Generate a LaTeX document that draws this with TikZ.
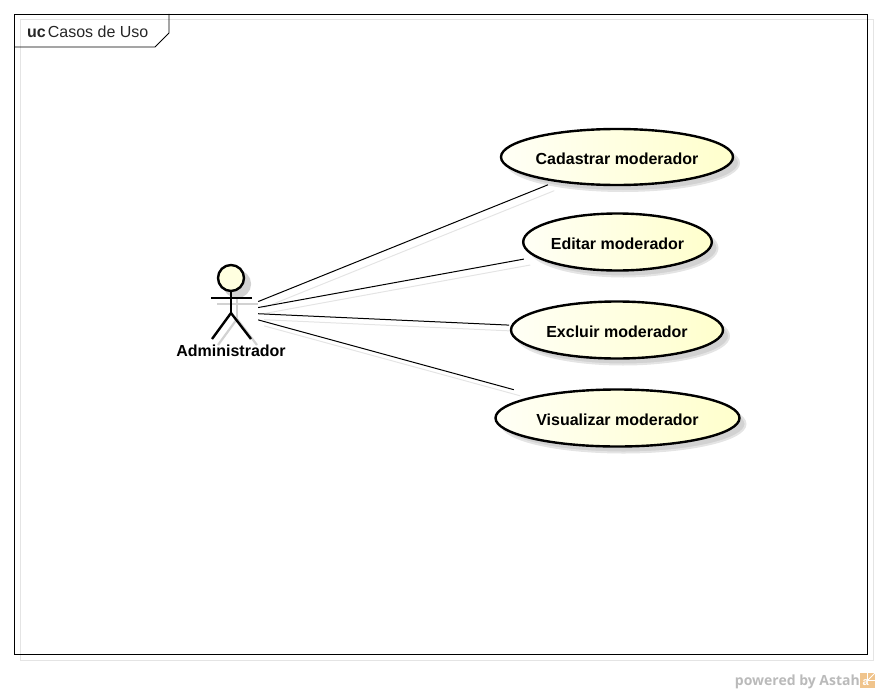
\documentclass[tikz,border=0pt]{standalone}
\usepackage{fontspec}
\setmainfont{Liberation Sans}
\newfontfamily\powerfont{Open Sans}
\usetikzlibrary{shapes.geometric}
\definecolor{ucfill}{HTML}{FFFFCC}
\definecolor{ucpale}{HTML}{FFFFF6}
\definecolor{ucshadow}{HTML}{D2D2D2}
\definecolor{shadowline}{HTML}{E4E4E4}
\definecolor{logofill}{HTML}{F0C48C}
\newcommand{\uclabel}[1]{\raisebox{-7pt}[0pt][0pt]{#1}}
\tikzset{
  usecase/.style={ellipse,draw,line width=2.4pt,inner sep=0pt,left color=ucpale,right color=ucfill,
    font=\fontsize{16}{18}\selectfont\bfseries},
  usecaseshadow/.style={ellipse,draw=ucshadow!60,line width=2pt,fill=ucshadow,inner sep=0pt},
  assoc/.style={line width=1pt},
  assocshadow/.style={line width=1pt,draw=shadowline},
  anchorbox/.style={rectangle,minimum width=54pt,minimum height=90pt,inner sep=0pt}
}
\begin{document}
\begin{tikzpicture}[x=1pt,y=-1pt]
      \useasboundingbox (0,0) rectangle (880,693);
      % frame
      \draw[shadowline,line width=1pt] (20,20) rectangle (873,660);
      \draw[line width=.85pt] (14,14) rectangle (867,654);
      \draw[line width=.85pt] (14,47) -- (155,47) -- (169,33) -- (169,14);
      \node[anchor=base west,inner sep=0pt,font=\fontsize{16}{18}\selectfont,text=black!85] (title) at (27,37.5) {\textbf{uc}\kern2pt Casos de Uso};
      % shadows
      \node[anchorbox] (adminS) at (237,318.5) {};
      \node[usecaseshadow,minimum width=232pt,minimum height=56pt] (cadS) at (623,163) {};
      \node[usecaseshadow,minimum width=188pt,minimum height=57pt] (ediS) at (623.5,248) {};
      \node[usecaseshadow,minimum width=212pt,minimum height=57pt] (excS) at (623,336) {};
      \node[usecaseshadow,minimum width=244pt,minimum height=57pt] (visS) at (623.5,424) {};
      \draw[assocshadow,shorten >=8pt] (adminS) -- (cadS);
      \draw[assocshadow,shorten >=11.5pt] (adminS) -- (ediS);
      \draw[assocshadow,shorten >=2pt] (adminS) -- (excS);
      \draw[assocshadow,shorten >=23pt] (adminS) -- (visS);
      % actor
      \foreach \dx/\colr/\fillc/\lw/\nm in {6/ucshadow/ucshadow/2.2/headS,0/black/ucfill!60/2.4/head} {
        \begin{scope}[xshift=\dx pt,yshift=-\dx pt,line width=\lw pt,draw=\colr]
          \node[circle,draw,fill=\fillc,minimum size=26pt,inner sep=0pt] (\nm) at (231,278) {};
          \coordinate (\nm hip) at (231,313);
          \draw (\nm.south) -- (\nm hip);
          \draw (211,298) -- (252,298);
          \draw (212,339) -- (\nm hip) -- (251,339);
        \end{scope}
      }
      \node[anchorbox] (admin) at (231,312.5) {};
      \node[inner sep=0pt,font=\fontsize{16}{18}\selectfont\bfseries] (adminlabel) at (231,350.5) {Administrador};
      % use cases
      \node[usecase,minimum width=232pt,minimum height=56pt] (cad) at (617,157) {\uclabel{Cadastrar moderador}};
      \node[usecase,minimum width=188pt,minimum height=57pt] (edi) at (617.5,242) {\uclabel{Editar moderador}};
      \node[usecase,minimum width=212pt,minimum height=57pt] (exc) at (617,330) {\uclabel{Excluir moderador}};
      \node[usecase,minimum width=244pt,minimum height=57pt] (vis) at (617.5,418) {\uclabel{Visualizar moderador}};
      \draw[assoc,shorten >=8pt] (admin) -- (cad);
      \draw[assoc,shorten >=11.5pt] (admin) -- (edi);
      \draw[assoc,shorten >=2pt] (admin) -- (exc);
      \draw[assoc,shorten >=23pt] (admin) -- (vis);
      % logo
      \node[anchor=base east,inner sep=0pt,text=black!27,font=\powerfont\fontsize{14}{16}\selectfont\bfseries] (powered) at (860,685) {powered by Astah};
      \node[anchor=south west,fill=logofill,minimum size=15pt,inner sep=0pt] (logo) at (860,688) {};
      \draw[white,line width=.9pt] (logo.north) -- (logo.center) -- (logo.east);
      \draw[white,line width=.9pt] (logo.north east) -- (logo.center);
      \node[inner sep=0pt,text=white,font=\fontsize{11}{11}\selectfont\bfseries] (logoa) at ([xshift=-2pt,yshift=-2pt]logo.center) {a};
    \end{tikzpicture}
\end{document}
